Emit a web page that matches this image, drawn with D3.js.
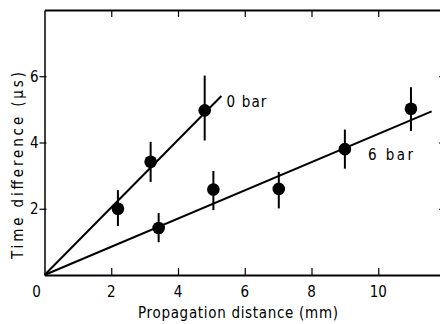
<!DOCTYPE html>
<html>
<head>
<meta charset="utf-8">
<script src="https://cdn.jsdelivr.net/npm/d3@7"></script>
<style>
  html, body { margin: 0; padding: 0; background: #fff; }
  svg { display: block; }
  text { font-family: "DejaVu Sans Condensed", "DejaVu Sans", sans-serif; fill: #000; }
</style>
</head>
<body>
<svg id="chart" width="440" height="324"></svg>
<script>
// Measurements at 0 bar
const distance0 = [2.2, 3.18, 4.8];
const time0     = [2.0, 3.42, 4.97];
const low0      = [1.48, 2.81, 4.06];
const high0     = [2.56, 4.02, 6.02];

// Measurements at 6 bar
const distance6 = [3.42, 5.06, 7.02, 9.0, 10.98];
const time6     = [1.42, 2.58, 2.6, 3.8, 5.02];
const low6      = [0.99, 1.96, 2.01, 3.21, 4.35];
const high6     = [1.87, 3.14, 3.11, 4.39, 5.67];

// Straight-line fits through the origin: [slope, last distance drawn]
const fit0 = [1.02, 5.3];
const fit6 = [0.426, 11.6];

const xTicks = [0, 2, 4, 6, 8, 10];
const yTicks = [2, 4, 6];

const svg = d3.select("#chart");
const x = d3.scaleLinear().domain([0, 12]).range([44.5, 445]);
const y = d3.scaleLinear().domain([0, 8]).range([275, 10]);

const axisStroke = g => g.selectAll("path, line").attr("stroke", "#000");

// Frame: bottom axis with inward ticks
svg.append("g")
  .attr("transform", `translate(0,${y(0)})`)
  .call(d3.axisBottom(x).tickValues(xTicks.filter(d => d > 0)).tickSize(-7).tickSizeOuter(0).tickFormat(""))
  .call(axisStroke)
  .call(g => g.select(".domain").attr("stroke-width", 2));

// Top axis with inward ticks
svg.append("g")
  .attr("transform", `translate(0,${y(8)})`)
  .call(d3.axisTop(x).tickValues(xTicks.filter(d => d > 0)).tickSize(-7).tickSizeOuter(0).tickFormat(""))
  .call(axisStroke)
  .call(g => g.select(".domain").attr("stroke-width", 2));

// Left axis, ticks crossing the line
svg.append("g")
  .attr("transform", `translate(${x(0)},0)`)
  .call(d3.axisLeft(y).tickValues(yTicks).tickSize(5).tickSizeOuter(0).tickFormat(""))
  .call(axisStroke)
  .call(g => g.select(".domain").attr("stroke-width", 1.5))
  .call(g => g.selectAll(".tick line").attr("x2", -5).attr("x1", 2));

// Right axis with inward ticks
svg.append("g")
  .attr("transform", `translate(${x(12)},0)`)
  .call(d3.axisRight(y).tickValues(yTicks).tickSize(-6).tickSizeOuter(0).tickFormat(""))
  .call(axisStroke)
  .call(g => g.select(".domain").attr("stroke-width", 1.5));

svg.selectAll(".tick line").attr("stroke-width", 1.2);

// Tick labels
svg.append("g").selectAll("text").data(xTicks).join("text")
  .attr("x", d => d === 0 ? x(0) - 8 : x(d))
  .attr("y", 297)
  .attr("text-anchor", "middle")
  .attr("font-size", 15)
  .text(d => d);

svg.append("g").selectAll("text").data(yTicks).join("text")
  .attr("x", x(0) - 6)
  .attr("y", d => y(d) + 5.5)
  .attr("text-anchor", "end")
  .attr("font-size", 15)
  .text(d => d);

// Axis titles
svg.append("text")
  .attr("x", 138).attr("y", 318)
  .attr("font-size", 15)
  .attr("textLength", 200)
  .attr("lengthAdjust", "spacing")
  .text("Propagation distance (mm)");

svg.append("text")
  .attr("transform", `translate(23,259) rotate(-90)`)
  .attr("font-size", 15)
  .attr("textLength", 187)
  .attr("lengthAdjust", "spacing")
  .text("Time difference (µs)");

// Fitted lines
const fitLine = d3.line().x(d => x(d[0])).y(d => y(d[1]));
[fit0, fit6].forEach(f => {
  svg.append("path")
    .attr("d", fitLine([[0, 0], [f[1], f[0] * f[1]]]))
    .attr("fill", "none")
    .attr("stroke", "#000")
    .attr("stroke-width", 2);
});

// Error bars and points
function drawSeries(xs, ys, lo, hi) {
  const g = svg.append("g");
  g.selectAll("line").data(xs).join("line")
    .attr("x1", d => x(d)).attr("x2", d => x(d))
    .attr("y1", (d, i) => y(lo[i])).attr("y2", (d, i) => y(hi[i]))
    .attr("stroke", "#000").attr("stroke-width", 2);
  g.selectAll("circle").data(xs).join("circle")
    .attr("cx", d => x(d)).attr("cy", (d, i) => y(ys[i]))
    .attr("r", 6.3).attr("fill", "#000");
}
drawSeries(distance0, time0, low0, high0);
drawSeries(distance6, time6, low6, high6);

// Series labels
svg.append("text")
  .attr("x", x(fit0[1]) + 5).attr("y", 107)
  .attr("font-size", 15)
  .attr("textLength", 40)
  .attr("lengthAdjust", "spacing")
  .text("0 bar");
svg.append("text")
  .attr("x", 368).attr("y", 160)
  .attr("font-size", 15)
  .attr("textLength", 45)
  .attr("lengthAdjust", "spacing")
  .text("6 bar");
</script>
</body>
</html>
